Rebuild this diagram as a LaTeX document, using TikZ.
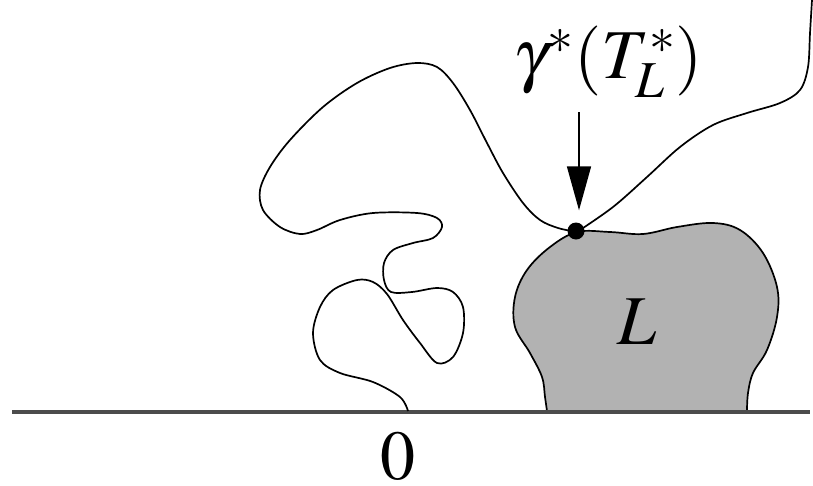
\documentclass[tikz,border=0pt]{standalone}
\usepackage{mathptmx}
\usetikzlibrary{arrows.meta}
\tikzset{
  walk/.style={line width=1.7pt, black, line join=round},
  big/.style={font=\fontsize{70}{84}\selectfont, inner sep=0pt},
}
\begin{document}
\begin{tikzpicture}[x=1pt,y=-1pt]
\useasboundingbox (0,0) rectangle (813,485);
% blob L
\fill[gray!60!white] (547,412) -- plot[smooth, tension=0.6] coordinates {(547,411) (545,397) (542,377) (530,353) (515,327) (515,297) (527,270) (550,247) (577,232) (610,232) (643,234) (677,227) (713,223) (740,230) (763,253) (777,287) (777,317) (767,350) (753,373) (748,393) (747,411)} -- (747,412) -- cycle;
\draw[line width=1.7pt] plot[smooth, tension=0.6] coordinates {(547,411) (545,397) (542,377) (530,353) (515,327) (515,297) (527,270) (550,247) (577,232) (610,232) (643,234) (677,227) (713,223) (740,230) (763,253) (777,287) (777,317) (767,350) (753,373) (748,393) (747,411)};
% baseline
\draw[line width=3.5pt, black!70] (12,412) -- (810,412);
% walk
\draw[walk] plot[smooth, tension=0.55] coordinates {(408,411) (400,397) (373,382) (340,373) (320,360) (313,333) (320,307) (333,290) (357,280) (373,282) (387,294) (403,320) (420,343) (437,363) (453,357) (463,333) (463,307) (453,292) (437,288) (412,292) (391,292) (384,280) (384,263) (393,250) (413,243) (433,238) (442,227) (437,218) (417,213) (373,213) (340,220) (317,230) (300,234) (280,227) (263,210) (260,190) (270,167) (290,140) (323,107) (357,83) (390,68) (417,63) (437,67) (453,83) (470,110) (487,143) (503,173) (523,203) (540,220) (558,228) (577,232)};
\draw[walk] plot[smooth, tension=0.55] coordinates {(577,232) (613,207) (647,177) (680,147) (713,125) (747,113) (780,103) (800,90) (808,67) (810,33) (812,0)};
% dot
\node[circle, fill=black, inner sep=0pt, minimum size=17pt] (dot) at (576,231) {};
\coordinate (arrtop) at (579,112);
\draw[line width=1.6pt, -{Triangle[length=44pt,width=24pt]}, shorten >=12pt] (arrtop) -- (dot.north -| arrtop);
% labels
\node[big] (lab) at (608,62) {$\gamma^*(T^*_L)$};
\node[big] (Lname) at (637,322) {$L$};
\node[big] (zero) at (398,457) {$0$};
\end{tikzpicture}
\end{document}
